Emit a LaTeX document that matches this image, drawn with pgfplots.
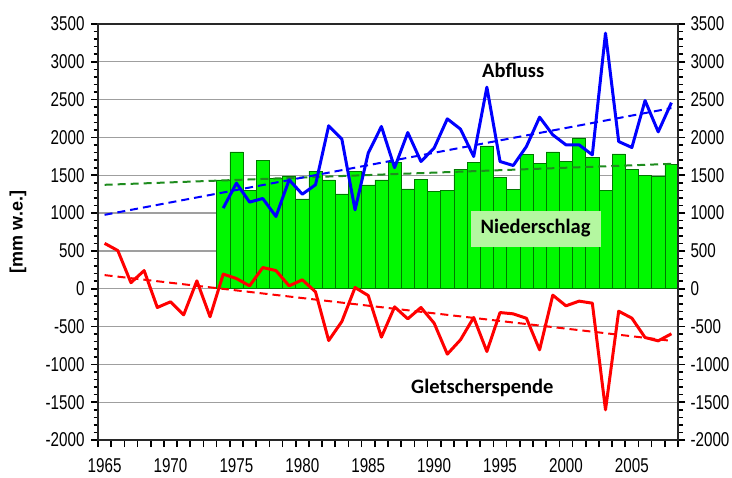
\documentclass[border=0pt]{standalone}
\usepackage{fontspec}
\setmainfont{Liberation Sans}
\newfontfamily\tickfont[FakeStretch=0.76]{Liberation Sans}
\newfontfamily\labfont{Carlito}
\usepackage{pgfplots}
\usepackage{pgfplotstable}
\pgfplotsset{compat=1.18}
\definecolor{barfill}{RGB}{0,248,0}
\definecolor{baredge}{RGB}{0,120,0}
\definecolor{boxfill}{RGB}{180,247,160}
\definecolor{trendgreen}{RGB}{30,140,30}
\definecolor{axgray}{RGB}{40,40,40}

\pgfplotstableread{
year precip
1974 1440
1975 1810
1976 1300
1977 1695
1978 1460
1979 1492
1980 1188
1981 1555
1982 1440
1983 1255
1984 1550
1985 1374
1986 1440
1987 1675
1988 1320
1989 1449
1990 1285
1991 1299
1992 1581
1993 1673
1994 1889
1995 1470
1996 1317
1997 1779
1998 1660
1999 1810
2000 1682
2001 1995
2002 1735
2003 1299
2004 1783
2005 1581
2006 1497
2007 1492
2008 1647
}\precip

\pgfplotstableread{
year runoff
1974 1066
1975 1396
1976 1145
1977 1193
1978 955
1979 1440
1980 1250
1981 1374
1982 2154
1983 1977
1984 1043
1985 1793
1986 2145
1987 1600
1988 2065
1989 1682
1990 1859
1991 2246
1992 2110
1993 1748
1994 2665
1995 1682
1996 1629
1997 1880
1998 2268
1999 2035
2000 1902
2001 1902
2002 1770
2003 3379
2004 1946
2005 1867
2006 2488
2007 2074
2008 2460
}\runoff

\pgfplotstableread{
year glacier
1965 600
1966 505
1967 80
1968 240
1969 -248
1970 -173
1971 -345
1972 104
1973 -371
1974 193
1975 135
1976 38
1977 280
1978 240
1979 38
1980 118
1981 -41
1982 -685
1983 -433
1984 16
1985 -90
1986 -640
1987 -240
1988 -398
1989 -248
1990 -455
1991 -865
1992 -675
1993 -380
1994 -830
1995 -315
1996 -332
1997 -390
1998 -808
1999 -85
2000 -226
2001 -164
2002 -191
2003 -1601
2004 -297
2005 -389
2006 -645
2007 -689
2008 -596
}\glacier

\begin{document}
\begin{tikzpicture}
\begin{axis}[
    width=580pt, height=416pt, scale only axis, name=main,
    xmin=1964.5, xmax=2008.5, ymin=-2000, ymax=3500,
    tick align=outside,
    major tick length=7pt, minor tick length=4.5pt,
    every tick/.style={black, line width=1.6pt},
    axis line style={axgray, line width=1.3pt},
    ytick={-2000,-1500,...,3500},
    minor y tick num=4,
    xtick={1964.5,1965.5,...,2008.5},
    xticklabels={},
    xtick pos=left,
    ytick pos=left, yticklabel pos=left,
    yticklabel style={xshift=-3pt},
    tick label style={font=\tickfont\fontsize{20}{20}\selectfont},
    /pgf/number format/assume math mode=true,
    /pgf/number format/1000 sep={},
    ymajorgrids,
    grid style={gray!75, line width=1.2pt},
    ylabel={[mm w.e.]},
    ylabel style={at={(axis description cs:-0.138,0.5)}, anchor=center,
      font=\bfseries\fontsize{18}{18}\selectfont},
  ]
  \addplot[ybar, bar width=1, bar shift=0pt, fill=barfill, draw=baredge, line width=0.6pt]
    table[x=year, y=precip] {\precip};
  \addplot[trendgreen, dashed, line width=2pt, dash pattern=on 8pt off 5pt]
    coordinates {(1965,1374) (2008,1651)};
  \addplot[blue, dashed, line width=2pt, dash pattern=on 8pt off 5pt]
    coordinates {(1965,977) (2008,2388)};
  \addplot[red, dashed, line width=2pt, dash pattern=on 8pt off 5pt]
    coordinates {(1965,180) (2008,-689)};
  \addplot[blue, line width=3pt, line join=round] table[x=year, y=runoff] {\runoff};
  \addplot[red, line width=3pt, line join=round] table[x=year, y=glacier] {\glacier};
  \node[font=\labfont\bfseries\fontsize{20.5}{20.5}\selectfont] at (axis cs:1996.0,2886) {Abfluss};
  \node[font=\labfont\bfseries\fontsize{20.5}{20.5}\selectfont, fill=boxfill,
        minimum width=130pt, minimum height=36pt, inner sep=0pt] at (axis cs:1997.7,796) {Niederschlag};
  \node[font=\labfont\bfseries\fontsize{20.5}{20.5}\selectfont] at (axis cs:1993.66,-1310) {Gletscherspende};
\end{axis}
\begin{axis}[
    width=580pt, height=416pt, scale only axis,
    xmin=1964.5, xmax=2008.5, ymin=-2000, ymax=3500,
    tick align=outside,
    major tick length=7pt, minor tick length=4.5pt,
    every tick/.style={black, line width=1.6pt},
    axis line style={axgray, line width=1.3pt},
    ytick={-2000,-1500,...,3500},
    minor y tick num=4,
    xtick=\empty,
    ytick pos=right, yticklabel pos=right,
    yticklabel style={xshift=2pt},
    tick label style={font=\tickfont\fontsize{20}{20}\selectfont},
    /pgf/number format/assume math mode=true,
    /pgf/number format/1000 sep={},
  ]
  \addplot[draw=none] coordinates {(1970,0)};
\end{axis}
\begin{axis}[
    width=580pt, height=416pt, scale only axis,
    xmin=1964.5, xmax=2008.5, ymin=-2000, ymax=3500,
    major tick length=0pt,
    axis line style={draw=none},
    ytick=\empty,
    xtick={1965,1970,...,2005},
    xtick pos=left,
    xticklabel style={yshift=-15pt},
    tick label style={font=\tickfont\fontsize{20}{20}\selectfont},
    /pgf/number format/assume math mode=true,
    /pgf/number format/1000 sep={},
  ]
  \addplot[draw=none] coordinates {(1970,0)};
\end{axis}
\pgfresetboundingbox
\useasboundingbox ([shift={(-98pt,-37pt)}]main.south west) rectangle ([shift={(54pt,24pt)}]main.north east);
\end{tikzpicture}
\end{document}
